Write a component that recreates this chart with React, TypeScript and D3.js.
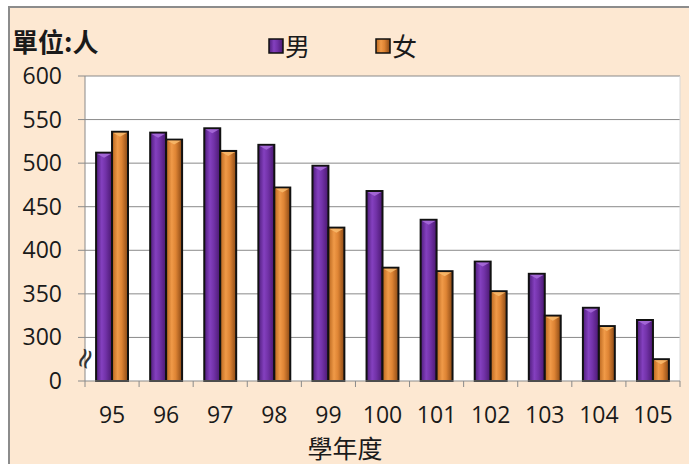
import React from "react";
import * as d3 from "d3";

const years = ["95", "96", "97", "98", "99", "100", "101", "102", "103", "104", "105"];
const male = [512, 535, 540, 521, 497, 468, 435, 387, 373, 334, 320];
const female = [536, 527, 514, 472, 426, 380, 376, 353, 325, 313, 275];
const seriesNames = ["男", "女"];
const yTickValues = [250, 300, 350, 400, 450, 500, 550, 600];
const yTickLabels = ["0", "300", "350", "400", "450", "500", "550", "600"];
const title = "單位:人";
const xTitle = "學年度";

const W = 689;
const H = 464;
const left = 85;
const right = 680;
const top = 76;
const bottom = 381;
const numFont = "'Open Sans', 'DejaVu Sans', sans-serif";
const cjkFont = "'Noto Sans CJK TC', 'Noto Sans', sans-serif";

export default function App() {
  const x = d3.scaleBand<string>().domain(years).range([left, right]).paddingInner(0.41).paddingOuter(0.205);
  const xs = d3.scaleBand<string>().domain(seriesNames).range([0, x.bandwidth()]).padding(0);
  const y = d3.scaleLinear().domain([250, 600]).range([bottom, top]);
  const step = x.step();
  const boundaries = d3.range(years.length + 1).map((i) => left + i * step);
  const data = [male, female];
  const grads = ["gMale", "gFemale"];
  const bevel = ["#a66ad8", "#f7b86a"];

  return (
    <svg width={W} height={H} style={{ position: "absolute", left: 0, top: 0 }}>
      <defs>
        <linearGradient id="gMale" x1="0" x2="1" y1="0" y2="0">
          <stop offset="0" stopColor="#4e1c7a" />
          <stop offset="0.35" stopColor="#8440bf" />
          <stop offset="0.6" stopColor="#7232a8" />
          <stop offset="1" stopColor="#4a1870" />
        </linearGradient>
        <linearGradient id="gFemale" x1="0" x2="1" y1="0" y2="0">
          <stop offset="0" stopColor="#b8661e" />
          <stop offset="0.35" stopColor="#f09a48" />
          <stop offset="0.6" stopColor="#de8434" />
          <stop offset="1" stopColor="#8a4814" />
        </linearGradient>
      </defs>
      <rect x={0} y={0} width={W} height={H} fill="#ffffff" />
      <rect x={8} y={6} width={W - 8} height={H - 6} fill="#fde8d2" />
      <line x1={8} x2={W} y1={7} y2={7} stroke="#8c8c8c" strokeWidth={2} />
      <line x1={9} x2={9} y1={6} y2={H} stroke="#8c8c8c" strokeWidth={2} />

      <rect x={left} y={top} width={right - left} height={bottom - top} fill="#ffffff" />
      {yTickValues.map((v, i) => (
        <g key={v}>
          {i > 0 && <line x1={left} x2={right} y1={y(v)} y2={y(v)} stroke="#8a8a8a" strokeWidth={1} />}
          <line x1={left - 7} x2={left} y1={y(v)} y2={y(v)} stroke="#8a8a8a" strokeWidth={1} />
          <text x={62} y={y(v) + 8} textAnchor="end" fontFamily={numFont} fontSize={23} fill="#1a1a1a">
            {yTickLabels[i]}
          </text>
        </g>
      ))}
      <line x1={right} x2={right} y1={top} y2={bottom} stroke="#d8d8d8" strokeWidth={1} />

      {data.map((vals, si) =>
        vals.map((v, i) => {
          const bx = (x(years[i]) as number) + (xs(seriesNames[si]) as number);
          const bw = xs.bandwidth();
          const by = y(v);
          return (
            <g key={`${si}-${i}`}>
              <rect x={bx} y={by} width={bw} height={bottom - by} fill={`url(#${grads[si]})`} stroke="#111" strokeWidth={2} />
              <path
                d={`M${bx + 1},${by + 1} L${bx + bw - 1},${by + 1} L${bx + bw / 2},${by + 5} Z`}
                fill={bevel[si]}
                opacity={0.9}
              />
            </g>
          );
        })
      )}

      <line x1={left} x2={left} y1={top} y2={bottom} stroke="#8a8a8a" strokeWidth={1} />
      <line x1={left} x2={right} y1={bottom} y2={bottom} stroke="#8a8a8a" strokeWidth={1} />
      {boundaries.map((bx, i) => (
        <line key={i} x1={bx} x2={bx} y1={bottom} y2={bottom + 6} stroke="#8a8a8a" strokeWidth={1} />
      ))}
      <text
        x={0}
        y={0}
        transform={`translate(86,359) rotate(-70)`}
        textAnchor="middle"
        dominantBaseline="middle"
        fontFamily="'DejaVu Sans', sans-serif"
        fontSize={28}
        fill="#333"
      >
        ≈
      </text>

      {years.map((yr) => (
        <text
          key={yr}
          x={(x(yr) as number) + x.bandwidth() / 2}
          y={423}
          textAnchor="middle"
          fontFamily={numFont}
          fontSize={23}
          fill="#1a1a1a"
        >
          {yr}
        </text>
      ))}
      <text x={345} y={458} textAnchor="middle" fontFamily={cjkFont} fontSize={25} fill="#1a1a1a">
        {xTitle}
      </text>
      <text x={12} y={52} fontFamily={cjkFont} fontSize={26} fontWeight="bold" fill="#1a1a1a">
        {title}
      </text>

      {seriesNames.map((s, si) => {
        const lx = [269, 376][si];
        return (
          <g key={s}>
            <rect x={lx} y={39} width={14} height={14} fill={`url(#${grads[si]})`} stroke="#111" strokeWidth={1.5} />
            <text x={lx + 16} y={56} fontFamily={cjkFont} fontSize={25} fill="#1a1a1a">
              {s}
            </text>
          </g>
        );
      })}
    </svg>
  );
}
